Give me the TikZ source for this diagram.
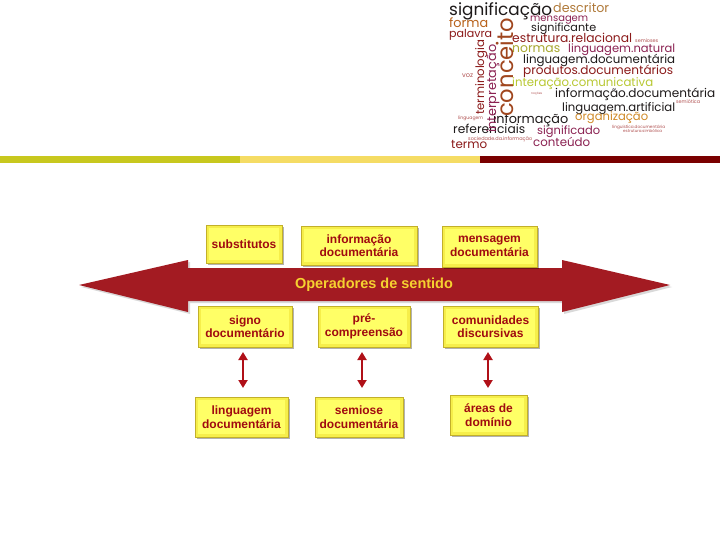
\documentclass[tikz,border=0pt]{standalone}
\usepackage{fontspec}
\usepackage{graphicx}
\setmainfont{Liberation Sans}
\newfontfamily\cloudfont{Poppins}
\usetikzlibrary{shadows,arrows.meta}
\definecolor{barA}{HTML}{C8C81E}
\definecolor{barB}{HTML}{F5DC64}
\definecolor{barC}{HTML}{7A0000}
\definecolor{arrowred}{HTML}{A31B22}
\definecolor{optext}{HTML}{F5D130}
\definecolor{boxtext}{HTML}{A00A10}
\definecolor{boxedge}{HTML}{C2B02A}
\definecolor{boxfill}{HTML}{F6EE4A}
\definecolor{boxinner}{HTML}{FFFF66}
\definecolor{vred}{HTML}{B01018}
\definecolor{cBlack}{HTML}{1E1A1A}
\definecolor{cTan}{HTML}{B07A3A}
\definecolor{cMaroon}{HTML}{8B2252}
\definecolor{cOrange}{HTML}{B8621B}
\definecolor{cRed}{HTML}{8B1A1A}
\definecolor{cConc}{HTML}{A0461E}
\definecolor{cOlive}{HTML}{A8A830}
\definecolor{cGreen}{HTML}{B8C832}
\definecolor{cOrg}{HTML}{D08A28}
\definecolor{cTiny}{HTML}{B05050}
\newcommand\wc[7]{\node[anchor=base west, inner sep=0pt, text=#5, rotate=#6] (#1) at (#2,#3) {\resizebox{#4pt}{!}{\cloudfont #7}};}
\tikzset{
  ybox/.style={draw=boxedge, line width=0.8pt, fill=boxfill, align=center,
    inner sep=0pt, text=boxtext, font=\bfseries\fontsize{12}{13.5}\selectfont,
    drop shadow={shadow xshift=2pt, shadow yshift=-2pt, opacity=0.3, fill=black},
    path picture={\fill[boxinner] ([shift={(3pt,-3pt)}]path picture bounding box.north west) rectangle ([shift={(-3pt,3pt)}]path picture bounding box.south east);}},
  varrow/.style={draw=vred, line width=2.4pt, {Triangle[width=9pt,length=8pt]}-{Triangle[width=9pt,length=8pt]}}
}
\begin{document}
\begin{tikzpicture}[x=1pt,y=-1pt]
\useasboundingbox (0,0) rectangle (720,540);
\fill[white] (0,0) rectangle (720,540);
% top bar
\fill[barA] (0,156) rectangle (240,163);
\fill[barB] (240,156) rectangle (480,163);
\fill[barC] (480,156) rectangle (720,163);
% word cloud
\wc{w1}{449}{16}{103}{cBlack}{0}{significação}
\wc{w2}{553}{13}{56}{cTan}{0}{descritor}
\wc{w3}{530}{22}{58}{cMaroon}{0}{mensagem}
\wc{w4}{449}{28}{39}{cOrange}{0}{forma}
\wc{w5}{531}{32}{65}{cBlack}{0}{significante}
\wc{w6}{449}{38}{43}{cRed}{0}{palavra}
\wc{w7}{512}{43}{120}{cRed}{0}{estrutura.relacional}
\wc{w8}{635}{43}{23}{cTiny}{0}{semioses}
\wc{w9}{512}{53}{48}{cOlive}{0}{normas}
\wc{w10}{568}{53}{107}{cMaroon}{0}{linguagem.natural}
\wc{w11}{523}{64}{152}{cBlack}{0}{linguagem.documentária}
\wc{w12}{523}{75}{150}{cRed}{0}{produtos.documentários}
\wc{w13}{462}{78}{11}{cTiny}{0}{voz}
\wc{w14}{512}{87}{141}{cGreen}{0}{interação.comunicativa}
\wc{w15}{531}{95}{11}{cTiny}{0}{noções}
\wc{w16}{555}{98}{160}{cBlack}{0}{informação.documentária}
\wc{w17}{676}{104}{24}{cTiny}{0}{semiótica}
\wc{w18}{562}{112}{113}{cBlack}{0}{linguagem.artificial}
\wc{w19}{458}{120}{25}{cTiny}{0}{linguagem}
\wc{w20}{493}{124}{75}{cBlack}{0}{informação}
\wc{w21}{575}{121}{73}{cOrg}{0}{organização}
\wc{w22}{612}{129}{53}{cTiny}{0}{linguística.documentária}
\wc{w23}{623}{133}{39}{cTiny}{0}{estrutura.simbólica}
\wc{w24}{453}{134}{72}{cBlack}{0}{referenciais}
\wc{w25}{537}{135}{63}{cMaroon}{0}{significado}
\wc{w26}{468}{141}{64}{cTiny}{0}{sociedade.da.informação}
\wc{w27}{451}{149}{36}{cRed}{0}{termo}
\wc{w28}{533}{147}{57}{cMaroon}{0}{conteúdo}
\wc{w29}{513}{117}{99}{cConc}{90}{conceito}
\wc{w30}{484}{115}{75}{cRed}{90}{terminologia}
\wc{w31}{496}{133}{88}{cMaroon}{90}{interpretação}
% big double arrow
\fill[black, opacity=0.15] (81,287) -- (190,262) -- (190,270) -- (564,270) -- (564,262) -- (672,287) -- (564,314) -- (564,303) -- (190,303) -- (190,314) -- cycle;
\fill[arrowred] (79,285) -- (188,260) -- (188,268) -- (562,268) -- (562,260) -- (670,285) -- (562,312) -- (562,301) -- (188,301) -- (188,312) -- cycle;
\node[text=optext, font=\bfseries\fontsize{14.5}{16}\selectfont] (op) at (374,285) {Operadores de sentido};
% boxes
\node[ybox, minimum width=76pt, minimum height=38pt] (subst) at (244,244) {substitutos};
\node[ybox, minimum width=116pt, minimum height=39pt] (infdoc) at (359,245.5) {informação\\documentária};
\node[ybox, minimum width=95pt, minimum height=41pt] (mensdoc) at (489.5,246.5) {mensagem\\documentária};
\node[ybox, minimum width=94pt, minimum height=41pt] (signo) at (245,326.5) {signo\\documentário};
\node[ybox, minimum width=92pt, minimum height=41pt] (precomp) at (364,326.5) {pré-\\compreensão};
\node[ybox, minimum width=95pt, minimum height=41pt] (comun) at (490.5,326.5) {comunidades\\discursivas};
\node[ybox, minimum width=93pt, minimum height=40pt] (lingdoc) at (241.5,417) {linguagem\\documentária};
\node[ybox, minimum width=88pt, minimum height=40pt] (semiose) at (359,417) {semiose\\documentária};
\node[ybox, minimum width=77pt, minimum height=40pt] (areas) at (488.5,415) {áreas de\\domínio};
% vertical arrows
\coordinate (a1t) at (243,352);
\coordinate (a1b) at (243,388);
\coordinate (a2t) at (362,352);
\coordinate (a2b) at (362,388);
\coordinate (a3t) at (488,352);
\coordinate (a3b) at (488,388);
\draw[varrow] (a1t) -- (a1b);
\draw[varrow] (a2t) -- (a2b);
\draw[varrow] (a3t) -- (a3b);
\end{tikzpicture}
\end{document}
